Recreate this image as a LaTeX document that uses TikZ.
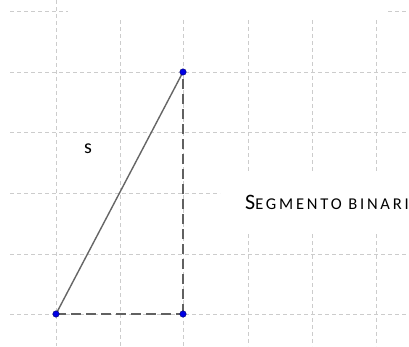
\documentclass[tikz,border=0pt]{standalone}
\usepackage{fontspec}
\setmainfont{Carlito}
\newfontfamily\scfont[LetterSpace=17]{Carlito}
\begin{document}
\begin{tikzpicture}[x=1pt,y=-1pt,
  gridline/.style={draw=black!20,line width=0.9pt,dash pattern=on 4pt off 3pt},
  segline/.style={draw=black!60,line width=1.4pt},
  auxline/.style={draw=black!62,line width=1.6pt,dash pattern=on 10pt off 5pt},
  pt/.style={circle,fill=blue!90!black,draw=blue!40!black,line width=0.4pt,inner sep=0pt,minimum size=6.5pt}]
\useasboundingbox (0,0) rectangle (409,346);
\fill[white] (0,0) rectangle (409,346);
\begin{scope}
\clip (0,0) rectangle (409,346);
% vertical grid lines
\draw[gridline] (56,0) -- (56,346);
\draw[gridline] (120,20) -- (120,346);
\draw[gridline] (183,20) -- (183,346);
\foreach \x in {248,312,376}{
  \draw[gridline] (\x,20) -- (\x,173);
  \draw[gridline] (\x,234) -- (\x,346);
}
% horizontal grid lines
\draw[gridline] (10,11) -- (68,11);
\draw[gridline] (388,11) -- (409,11);
\foreach \y in {72,132,254,314}{
  \draw[gridline] (10,\y) -- (409,\y);
}
\draw[gridline] (10,193) -- (220,193);
% points
\coordinate (A) at (56,314);
\coordinate (B) at (183,314);
\coordinate (C) at (183,72);
\draw[segline] (A) -- (C);
\draw[auxline] (A) -- (B);
\draw[auxline] (B) -- (C);
\node[pt] (pA) at (A) {};
\node[pt] (pB) at (B) {};
\node[pt] (pC) at (C) {};
\node[anchor=base,inner sep=0pt,font=\fontsize{20}{20}\selectfont] (lbl) at (88,153) {s};
\node[anchor=base west,inner sep=0pt] (title) at (245,209)
  {{\fontsize{22}{22}\selectfont S}{\scfont\fontsize{16.5}{16.5}\selectfont EGMENTO BINARI}};
\end{scope}
\end{tikzpicture}
\end{document}
